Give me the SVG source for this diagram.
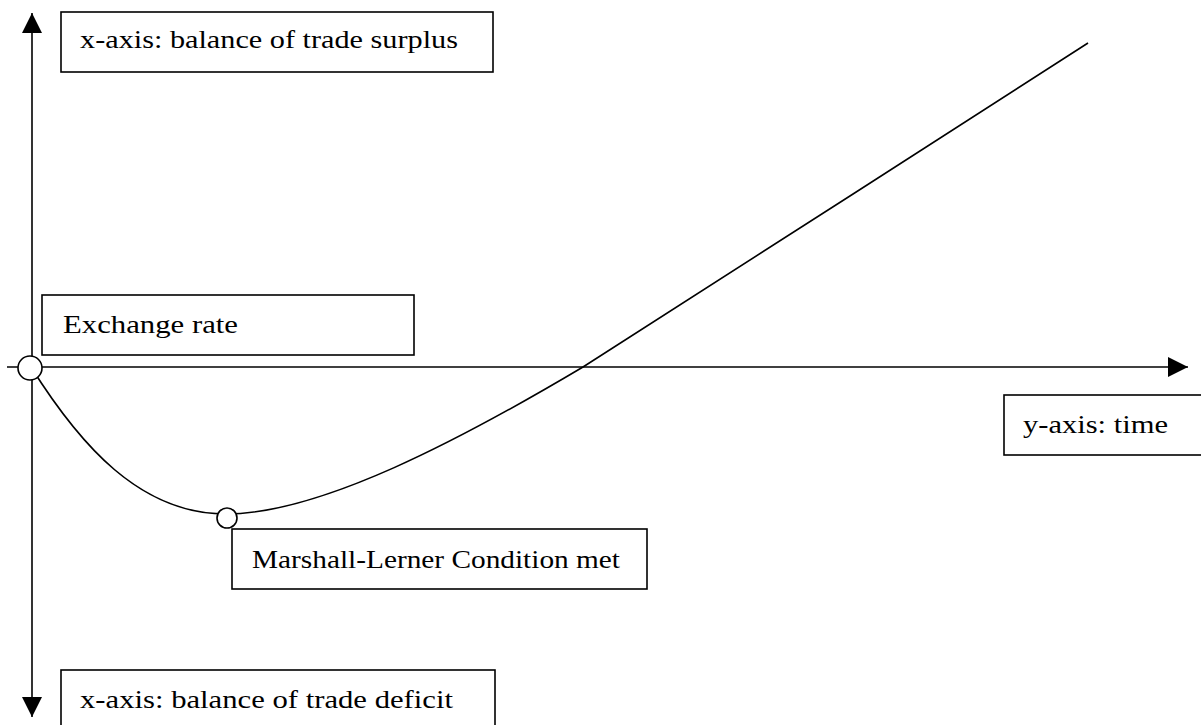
<svg xmlns="http://www.w3.org/2000/svg" width="1201" height="725" viewBox="0 0 1201 725">
<style>
.box{fill:#fff;stroke:#000;stroke-width:1.6}
.lbl{font-family:"Liberation Serif","DejaVu Serif",serif;font-size:25px;fill:#000}
.ax{stroke:#000;stroke-width:1.6;fill:none}
.dot{fill:#fff;stroke:#000;stroke-width:1.6}
</style>
<defs>
<marker id="ah" viewBox="0 0 20 20" refX="20" refY="10" markerWidth="20" markerHeight="20" markerUnits="userSpaceOnUse" orient="auto">
<path d="M0,0 L20,10 L0,20 Z" fill="#000"/>
</marker>
</defs>
<g id="connectors">
<line class="ax" x1="32" y1="367" x2="32" y2="13" marker-end="url(#ah)"/>
<line class="ax" x1="32" y1="367" x2="32" y2="717" marker-end="url(#ah)"/>
<line class="ax" x1="7" y1="367" x2="1188" y2="367" marker-end="url(#ah)"/>
<path class="ax" d="M31,367 C80,445 140,514 226,514 C320,514 460,440 583,367 C700,292 950,132 1088,43"/>
</g>
<g id="origin"><circle class="dot" cx="30" cy="368" r="12"/></g>
<g id="ml-point"><circle class="dot" cx="227" cy="518" r="10"/></g>
<g id="surplus">
<rect class="box" x="61" y="12" width="432" height="60"/>
<text class="lbl" x="80" y="48" textLength="378" lengthAdjust="spacingAndGlyphs">x-axis: balance of trade surplus</text>
</g>
<g id="exchange">
<rect class="box" x="42" y="295" width="372" height="60"/>
<text class="lbl" x="63" y="333" textLength="175" lengthAdjust="spacingAndGlyphs">Exchange rate</text>
</g>
<g id="time">
<rect class="box" x="1004" y="395" width="210" height="60"/>
<text class="lbl" x="1023" y="433" textLength="145" lengthAdjust="spacingAndGlyphs">y-axis: time</text>
</g>
<g id="marshall">
<rect class="box" x="232" y="529" width="415" height="60"/>
<text class="lbl" x="252" y="568" textLength="368" lengthAdjust="spacingAndGlyphs">Marshall-Lerner Condition met</text>
</g>
<g id="deficit">
<rect class="box" x="61" y="670" width="434" height="70"/>
<text class="lbl" x="80" y="708" textLength="373" lengthAdjust="spacingAndGlyphs">x-axis: balance of trade deficit</text>
</g>
</svg>
